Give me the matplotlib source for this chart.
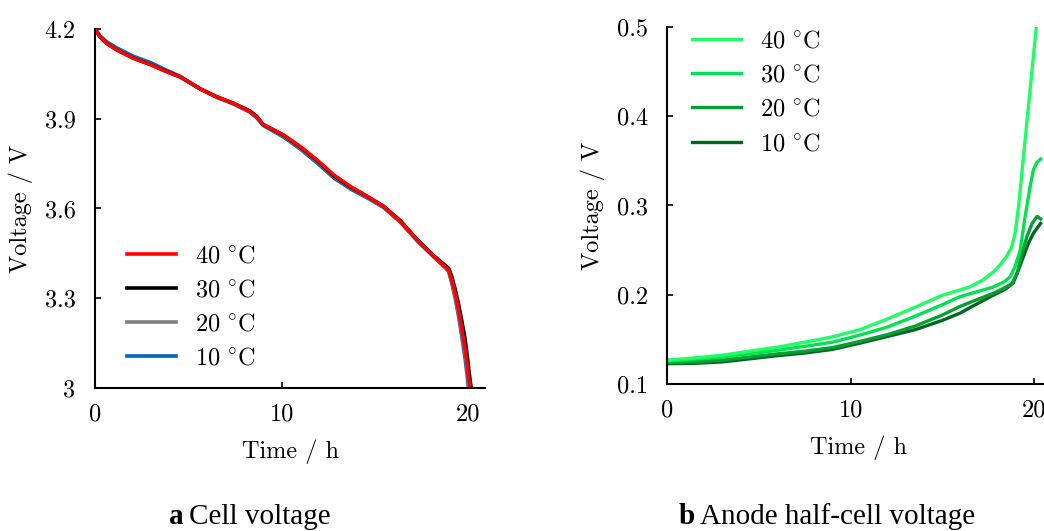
import matplotlib.pyplot as plt

plt.rcParams['font.family'] = 'serif'
plt.rcParams['font.serif'] = ['cmr10']
plt.rcParams['mathtext.fontset'] = 'cm'
plt.rcParams['axes.formatter.use_mathtext'] = True

# Cell voltage data
t_cell = [0, 0.27, 0.63, 1.16, 2.05, 3.0, 3.84, 4.56, 5.63, 6.5, 7.4, 8.3, 8.67, 9.0,
          10.1, 11.0, 11.9, 12.8, 13.7, 14.6, 15.45, 16.35, 17.25, 18.15, 18.77,
          18.95, 19.12, 19.3, 19.48, 19.66, 19.84, 19.96, 20.07, 20.2, 20.4]
v_cell_40 = [4.2, 4.174, 4.152, 4.13, 4.102, 4.08, 4.057, 4.04, 4.0, 3.974, 3.952,
             3.924, 3.905, 3.881, 3.846, 3.807, 3.762, 3.712, 3.673, 3.64, 3.607,
             3.557, 3.495, 3.44, 3.405, 3.394, 3.36, 3.316, 3.26, 3.195, 3.127, 3.07,
             3.005, 2.94, 2.84]
v_cell_30 = [4.2, 4.174, 4.152, 4.131, 4.103, 4.081, 4.058, 4.04, 4.0, 3.974, 3.952,
             3.926, 3.908, 3.881, 3.845, 3.805, 3.760, 3.709, 3.671, 3.64, 3.608,
             3.56, 3.497, 3.442, 3.41, 3.4, 3.372, 3.33, 3.28, 3.222, 3.16,
             3.10, 3.04, 2.98, 2.88]
v_cell_20 = [4.2, 4.175, 4.153, 4.132, 4.104, 4.082, 4.058, 4.04, 4.0, 3.973, 3.951,
             3.924, 3.905, 3.88, 3.843, 3.803, 3.757, 3.707, 3.669, 3.638, 3.606,
             3.556, 3.494, 3.44, 3.404, 3.392, 3.355, 3.308, 3.25, 3.185, 3.115,
             3.055, 2.99, 2.92, 2.82]
v_cell_10 = [4.2, 4.177, 4.157, 4.137, 4.109, 4.087, 4.062, 4.042, 4.0, 3.972, 3.95,
             3.922, 3.903, 3.878, 3.839, 3.799, 3.752, 3.702, 3.665, 3.635, 3.604,
             3.555, 3.493, 3.438, 3.402, 3.389, 3.35, 3.30, 3.24, 3.17, 3.095,
             3.03, 2.965, 2.90, 2.80]

# Anode half-cell voltage data
t_anode_40 = [0, 1.5, 3, 4.5, 6, 7.5, 9, 10.5, 12, 13.5, 15, 15.8, 16.5, 17.2, 17.8,
              18.15, 18.5, 18.78, 18.96, 19.15, 19.33, 19.51, 19.69, 19.87, 20.05, 20.2]
v_anode_40 = [0.127, 0.1295, 0.1325, 0.137, 0.1415, 0.147, 0.153, 0.161, 0.173, 0.186,
              0.1995, 0.2045, 0.209, 0.2165, 0.226, 0.2337, 0.243, 0.254, 0.269, 0.299,
              0.336, 0.374, 0.411, 0.448, 0.486, 0.515]
t_anode_30 = [0, 1.5, 3, 4.5, 6, 7.5, 9, 10.5, 12, 13.5, 15, 15.95, 16.8, 17.8, 18.4,
              18.7, 18.97, 19.24, 19.51, 19.78, 19.96, 20.15, 20.35]
v_anode_30 = [0.126, 0.128, 0.1305, 0.134, 0.138, 0.1425, 0.147, 0.155, 0.164, 0.176,
              0.189, 0.198, 0.203, 0.209, 0.215, 0.2205, 0.232, 0.25, 0.288, 0.321,
              0.34, 0.348, 0.352]
t_anode_20 = [0, 1.5, 3, 4.5, 6, 7.5, 9, 10.5, 12, 13.5, 15, 15.95, 16.8, 17.8, 18.4,
              18.8, 19.07, 19.34, 19.61, 19.89, 20.16, 20.35]
v_anode_20 = [0.124, 0.125, 0.127, 0.1305, 0.134, 0.137, 0.141, 0.148, 0.1555, 0.165,
              0.1775, 0.187, 0.194, 0.202, 0.208, 0.213, 0.2244, 0.247, 0.2654, 0.280,
              0.2878, 0.285]
t_anode_10 = [0, 1.5, 3, 4.5, 6, 7.5, 9, 10.5, 12, 13.5, 15, 15.95, 16.8, 17.8, 18.4,
              18.85, 19.15, 19.42, 19.69, 19.96, 20.35]
v_anode_10 = [0.123, 0.1235, 0.125, 0.1285, 0.132, 0.135, 0.139, 0.146, 0.1535, 0.161,
              0.1715, 0.1795, 0.189, 0.200, 0.206, 0.213, 0.228, 0.243, 0.258, 0.269,
              0.280]

labels = [r'$40\ ^{\circ}\mathrm{C}$', r'$30\ ^{\circ}\mathrm{C}$',
          r'$20\ ^{\circ}\mathrm{C}$', r'$10\ ^{\circ}\mathrm{C}$']
cell_colors = ['#ff0000', '#000000', '#808080', '#0066bb']
anode_colors = ['#22ff66', '#00e050', '#00a033', '#00661f']
fs = 17.5

fig = plt.figure(figsize=(10.44, 5.31), dpi=100)
ax1 = fig.add_axes([0.091, 0.2693, 0.3736, 0.6761])
ax2 = fig.add_axes([0.639, 0.2763, 0.3674, 0.6734])


def style(ax):
    for s in ['top', 'right']:
        ax.spines[s].set_visible(False)
    for s in ['left', 'bottom']:
        ax.spines[s].set_linewidth(1.5)
    ax.tick_params(direction='in', length=4, width=1.2, labelsize=fs)
    ax.tick_params(axis='x', pad=11)
    ax.tick_params(axis='y', pad=14)
    ax.set_xlim(0, 20.9)
    ax.set_xticks([0, 10, 20])
    ax.set_xticklabels(['0', '10', '20'])
    ax.set_xlabel('Time / h', fontsize=fs, labelpad=10)
    ax.set_ylabel('Voltage / V', fontsize=fs, labelpad=8)


# Celda completa: el rojo queda encima
ax1.plot(t_cell, v_cell_10, color=cell_colors[3], lw=2.6)
ax1.plot(t_cell, v_cell_20, color=cell_colors[2], lw=2.6)
ax1.plot(t_cell, v_cell_30, color=cell_colors[1], lw=2.6)
ax1.plot(t_cell, v_cell_40, color=cell_colors[0], lw=2.6)
h1 = [plt.Line2D([], [], color=c, lw=2.6) for c in cell_colors]
style(ax1)
ax1.set_ylim(3, 4.2)
ax1.set_yticks([3, 3.3, 3.6, 3.9, 4.2])
ax1.set_yticklabels(['3', '3.3', '3.6', '3.9', '4.2'])
ax1.legend(h1, labels, loc='center left', bbox_to_anchor=(0.1216, 0.421),
           bbox_transform=fig.transFigure, frameon=False, fontsize=fs,
           handlelength=2.0, handletextpad=0.8, labelspacing=0.5, borderpad=0,
           borderaxespad=0)

# Semicelda del anodo
ax2.plot(t_anode_10, v_anode_10, color=anode_colors[3], lw=2.4)
ax2.plot(t_anode_20, v_anode_20, color=anode_colors[2], lw=2.4)
ax2.plot(t_anode_30, v_anode_30, color=anode_colors[1], lw=2.4)
ax2.plot(t_anode_40, v_anode_40, color=anode_colors[0], lw=2.4)
h2 = [plt.Line2D([], [], color=c, lw=2.4) for c in anode_colors]
style(ax2)
ax2.set_ylim(0.1, 0.5)
ax2.set_yticks([0.1, 0.2, 0.3, 0.4, 0.5])
ax2.set_yticklabels(['0.1', '0.2', '0.3', '0.4', '0.5'])
ax2.legend(h2, labels, loc='center left', bbox_to_anchor=(0.6628, 0.8255),
           bbox_transform=fig.transFigure, frameon=False, fontsize=fs,
           handlelength=2.0, handletextpad=0.8, labelspacing=0.5, borderpad=0,
           borderaxespad=0)

cap = dict(fontsize=21, family='Liberation Serif', va='baseline')
fig.text(0.181, 0.0135, 'Cell voltage', ha='left', **cap)
fig.text(0.176, 0.0135, 'a', ha='right', weight='bold', **cap)
fig.text(0.6705, 0.0135, 'Anode half-cell voltage', ha='left', **cap)
fig.text(0.6655, 0.0135, 'b', ha='right', weight='bold', **cap)

fig.savefig('out.png', dpi=100)
